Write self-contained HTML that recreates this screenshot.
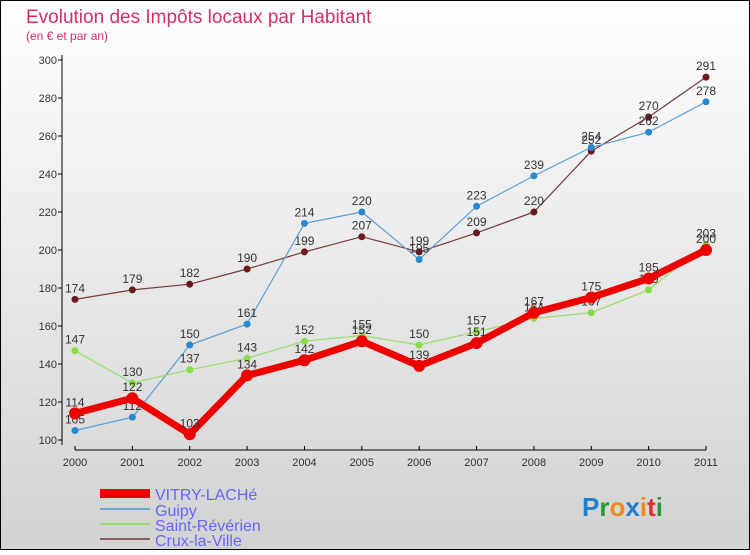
<!DOCTYPE html>
<html><head><meta charset="utf-8"><style>
body{margin:0}
#c{width:750px;height:550px;position:relative;font-family:"Liberation Sans",sans-serif}
</style></head><body>
<div id="c">
<svg id="s" width="750" height="550" xmlns="http://www.w3.org/2000/svg">
<defs><linearGradient id="bg" x1="0" y1="0" x2="0" y2="1"><stop offset="0" stop-color="#ffffff"/><stop offset="1" stop-color="#d2d2d2"/></linearGradient></defs>
<rect x="0.5" y="0.5" width="749" height="549" fill="url(#bg)" stroke="#000"/>
<text x="26" y="23" font-size="19" fill="#d0306a">Evolution des Impôts locaux par Habitant</text>
<text x="26" y="40" font-size="12" fill="#d0306a">(en € et par an)</text>
<g id="axes"></g><g id="series"></g>
<g font-size="16" fill="#6666ff">
<rect x="100" y="489" width="50" height="9" fill="#e00"/>
<text x="155" y="500">VITRY-LACHé</text>
<rect x="100" y="508" width="50" height="2" fill="#6fa8d0"/>
<text x="155" y="516">Guipy</text>
<rect x="100" y="523" width="50" height="2" fill="#99dd66"/>
<text x="155" y="531">Saint-Révérien</text>
<rect x="100" y="538" width="50" height="2" fill="#8b5a5a"/>
<text x="155" y="546">Crux-la-Ville</text>
</g>
<text x="582" y="516" font-size="26" font-weight="bold"><tspan fill="#1e7fd0">P</tspan><tspan fill="#2a9a3a">r</tspan><tspan fill="#f08a1a">o</tspan><tspan fill="#1e7fd0">x</tspan><tspan fill="#f08a1a">i</tspan><tspan fill="#e03030">t</tspan><tspan fill="#2a9a3a">i</tspan></text>
</svg></div>
<script>
const years=[2000,2001,2002,2003,2004,2005,2006,2007,2008,2009,2010,2011];
const yTicks=[100,120,140,160,180,200,220,240,260,280,300];
const vitry=[114,122,103,134,142,152,139,151,167,175,185,200];
const guipy=[105,112,150,161,214,220,195,223,239,254,262,278];
const saint=[147,130,137,143,152,155,150,157,164,167,179,203];
const crux=[174,179,182,190,199,207,199,209,220,252,270,291];
const NS="http://www.w3.org/2000/svg";
const X=i=>75+i*(706-75)/11;
const Y=v=>440-(v-100)*380/200;
function mk(t,a,p){const e=document.createElementNS(NS,t);for(const k in a)e.setAttribute(k,a[k]);p.appendChild(e);return e;}
const ax=document.getElementById('axes');
let l=mk('line',{x1:62,y1:55,x2:62,y2:445,stroke:'#000'},ax);


l=mk('line',{x1:75,y1:450,x2:706,y2:450,stroke:'#000'},ax);


yTicks.forEach(v=>{mk('line',{x1:58,y1:Y(v),x2:62,y2:Y(v),stroke:'#000'},ax);
const t=mk('text',{x:57,y:Y(v)+4,'font-size':11,'text-anchor':'end',fill:'#333'},ax);t.textContent=v;

});
years.forEach((y,i)=>{mk('line',{x1:X(i),y1:446,x2:X(i),y2:450,stroke:'#000'},ax);
const t=mk('text',{x:X(i),y:466,'font-size':11,'text-anchor':'middle',fill:'#333'},ax);t.textContent=y;

});
const sg=document.getElementById('series');
function draw(name,data,color,w,r,dot){
const g=mk('g',{},sg);


const p=mk('polyline',{points:data.map((v,i)=>X(i)+','+Y(v)).join(' '),fill:'none',stroke:color,'stroke-width':w,'stroke-linejoin':'round'},g);


data.forEach((v,i)=>{const c=mk('circle',{cx:X(i),cy:Y(v),r:r,fill:dot},g);


const t=mk('text',{x:X(i),y:Y(v)-7,'font-size':12,'text-anchor':'middle',fill:'#333'},g);t.textContent=v;

});}
draw('crux',crux,'#7a3a3a',1.2,3.5,'#6a1a1a');
draw('guipy',guipy,'#5aa0d8',1.2,3.5,'#2a88cc');
draw('saint-reverien',saint,'#99dd66',1.2,3.5,'#88dd44');
draw('vitry',vitry,'#ee0000',7,6,'#ee0000');
</script>
</body></html>
